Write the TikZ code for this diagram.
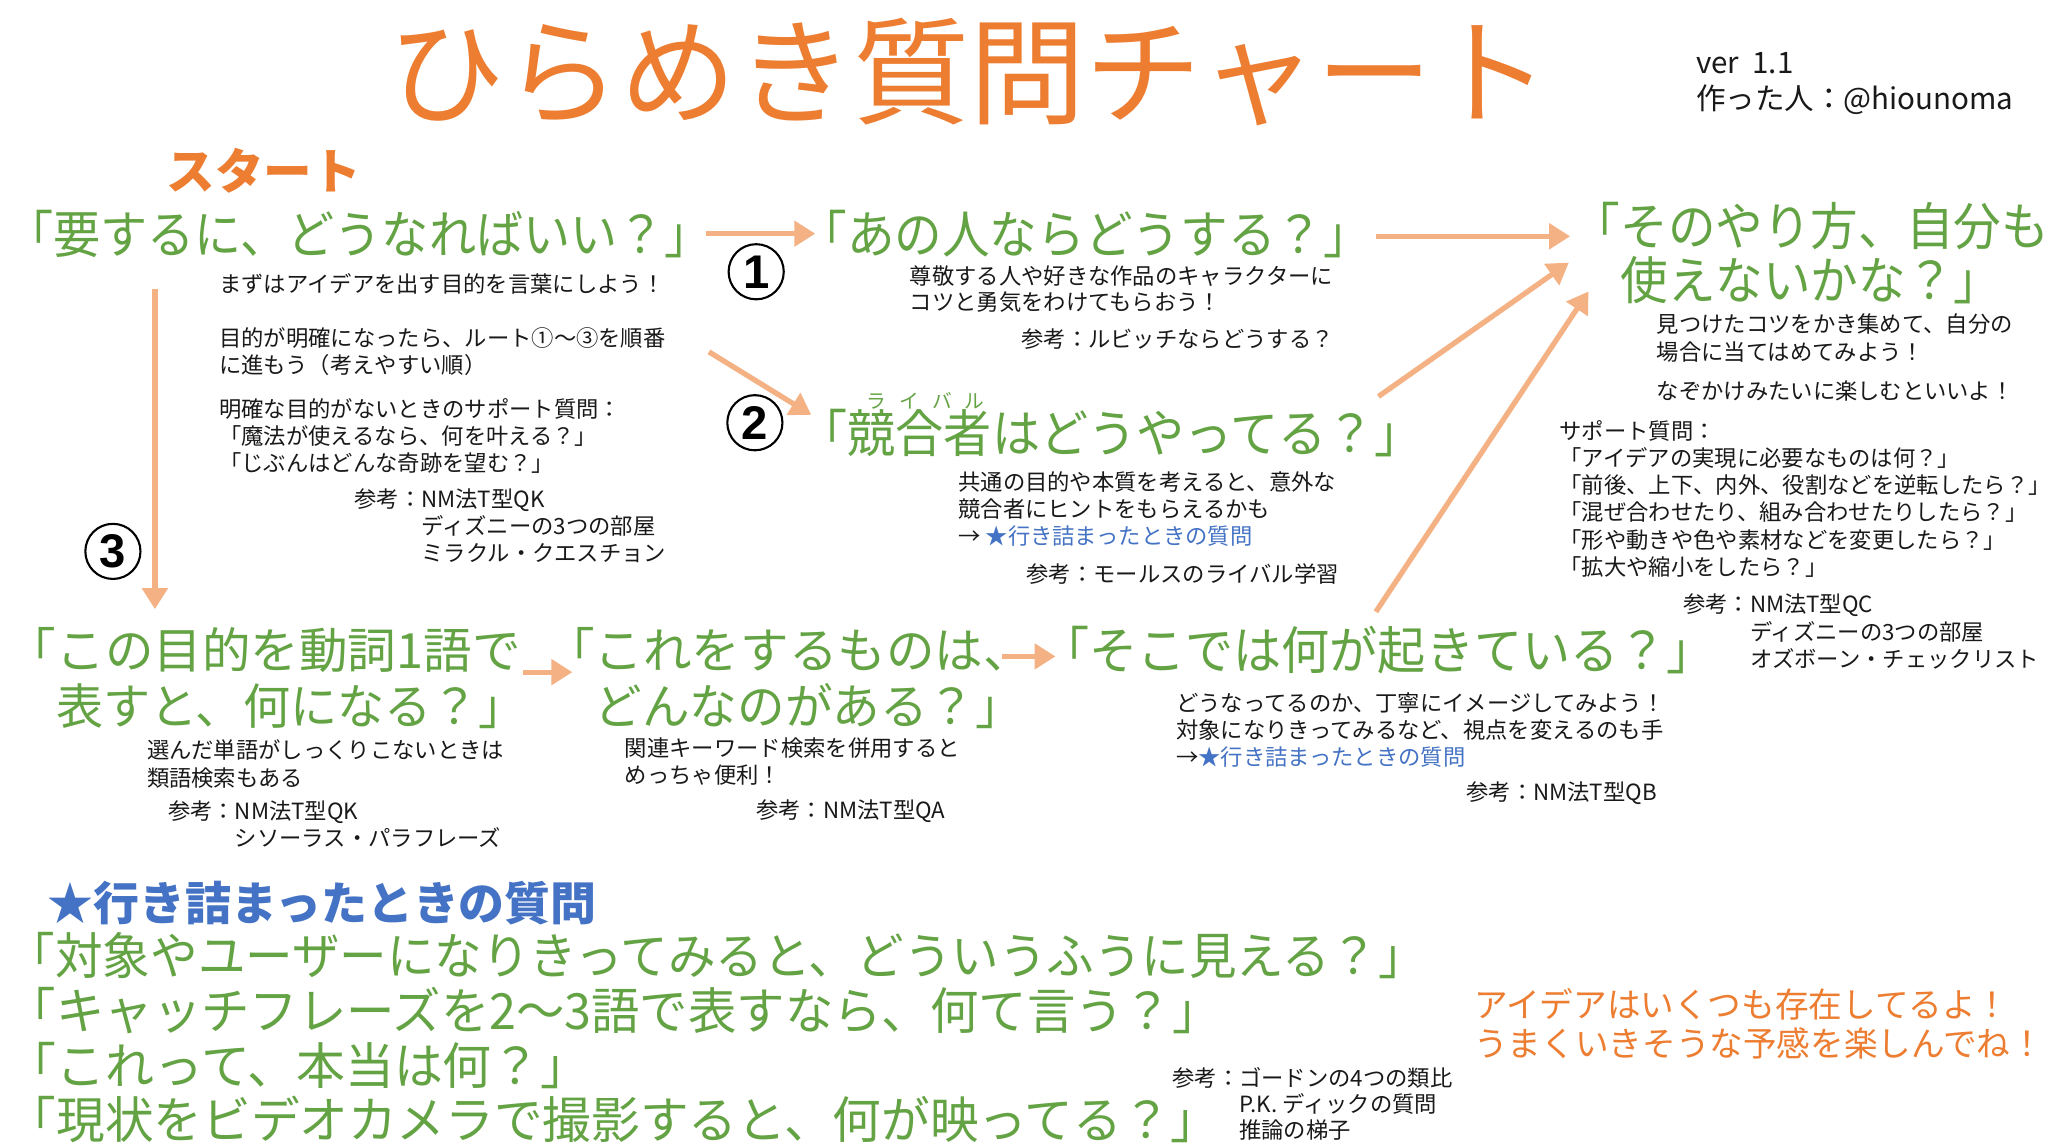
\documentclass[tikz,border=0pt]{standalone}
\usepackage{fontspec}
\setmainfont{Noto Sans CJK JP}
\newfontfamily\numfont{Liberation Sans}
\usepackage{graphicx}
\usetikzlibrary{arrows.meta}
\definecolor{ttl}{RGB}{237,125,49}
\definecolor{grn}{RGB}{100,163,68}
\definecolor{arc}{RGB}{244,177,131}
\definecolor{blu}{RGB}{68,114,196}
\definecolor{txt}{RGB}{25,25,25}
\newcommand{\sqz}[2]{\scalebox{#1}[1]{#2}}
\begin{document}
\begin{tikzpicture}[x=1pt,y=-1pt,
  every node/.style={inner sep=0pt, outer sep=0pt},
  q/.style={anchor=west, text=grn, align=left, font=\fontsize{39}{41}\selectfont},
  note/.style={anchor=west, align=left, text=txt, font=\fontsize{17}{20.7}\selectfont},
  circ/.style={circle, draw=black, line width=1.6pt, minimum size=42pt, font=\numfont\bfseries\fontsize{36}{36}\selectfont},
  arr/.style={draw=arc, line width=4pt, -{Triangle[length=16pt,width=19pt]}}]
\fill[white] (0,0) rectangle (1560,872.2);
\useasboundingbox (0,0) rectangle (1560,872.2);

% title and credits
\node[anchor=center, text=ttl, font=\fontsize{88.5}{88.5}\selectfont] (title) at (738,55) {ひらめき質問チャート};
\node[anchor=west, align=left, text=txt, font=\fontsize{22.5}{27}\selectfont] (ver) at (1292,63.5) {ver\ \ 1.1\\作った人：@hiounoma};
\node[anchor=center, text=ttl, font=\bfseries\fontsize{37}{37}\selectfont] (start) at (201,130) {スタート};

% main questions
\node[q] (n1) at (5,178) {\sqz{0.92}{「要するに、どうなればいい？」}};
\node[q] (n2) at (609,178) {\sqz{0.93}{「あの人ならどうする？」}};
\node[q] (n3) at (1198,192.5) {\sqz{0.93}{「そのやり方、自分も}\\\hspace*{0.93em}\sqz{0.93}{使えないかな？」}};
\node[anchor=west, text=grn, font=\fontsize{15}{15}\selectfont] (ruby) at (660,305) {ラ\hspace{10pt}イ\hspace{10pt}バ\hspace{10pt}ル};
\node[q] (nr) at (609,330) {\sqz{0.94}{「競合者はどうやってる？」}};
\node[q, font=\fontsize{37}{43}\selectfont] (n4) at (6,516.5) {「この目的を動詞1語で\\\hspace*{1em}\sqz{0.97}{表すと、何になる？」}};
\node[q, font=\fontsize{37}{43}\selectfont] (n5) at (416,516.5) {「これをするものは、\\\hspace*{1em}\sqz{0.98}{どんなのがある？」}};
\node[q] (n6) at (793,495) {\sqz{0.94}{「そこでは何が起きている？」}};

% circled route numbers
\node[circ] (c1) at (576,207) {1};
\node[circ] (c2) at (575,322) {2};
\node[circ] (c3) at (86,420) {3};

% notes: start
\node[note] (t1) at (167,216) {まずはアイデアを出す目的を言葉にしよう！};
\node[note] (t2) at (167,268) {目的が明確になったら、ルート①〜③を順番\\に進もう（考えやすい順）};
\node[note] (t3) at (167,332) {明確な目的がないときのサポート質問：\\「魔法が使えるなら、何を叶える？」\\「じぶんはどんな奇跡を望む？」};
\node[note] (t4) at (270,400.5) {参考：NM法T型QK\\\hspace*{3em}ディズニーの3つの部屋\\\hspace*{3em}ミラクル・クエスチョン};

% notes: route 1
\node[note, font=\fontsize{17}{20}\selectfont] (u1) at (693,220) {尊敬する人や好きな作品のキャラクターに\\コツと勇気をわけてもらおう！};
\node[note] (u2) at (778,258) {参考：ルビッチならどうする？};

% notes: route 2
\node[note] (r1) at (730,387.5) {共通の目的や本質を考えると、意外な\\競合者にヒントをもらえるかも\\→ \textcolor{blu}{★行き詰まったときの質問}};
\node[note] (r2) at (782,437) {参考：モールスのライバル学習};

% notes: goal
\node[note] (g1) at (1262,257.5) {見つけたコツをかき集めて、自分の\\場合に当てはめてみよう！};
\node[note] (g2) at (1262,298) {なぞかけみたいに楽しむといいよ！};
\node[note] (g3) at (1188,380) {サポート質問：\\「アイデアの実現に必要なものは何？」\\「前後、上下、内外、役割などを逆転したら？」\\「混ぜ合わせたり、組み合わせたりしたら？」\\「形や動きや色や素材などを変更したら？」\\「拡大や縮小をしたら？」};
\node[note] (g4) at (1282,481) {参考：NM法T型QC\\\hspace*{3em}ディズニーの3つの部屋\\\hspace*{3em}オズボーン・チェックリスト};

% notes: route 3
\node[note] (v1) at (112,582) {選んだ単語がしっくりこないときは\\類語検索もある};
\node[note] (v2) at (128,628) {参考：NM法T型QK\\\hspace*{3em}シソーラス・パラフレーズ};
\node[note] (w1) at (476,580) {関連キーワード検索を併用すると\\めっちゃ便利！};
\node[note] (w2) at (576,618) {参考：NM法T型QA};
\node[note] (x1) at (896,556) {どうなってるのか、丁寧にイメージしてみよう！\\対象になりきってみるなど、視点を変えるのも手\\→\textcolor{blu}{★行き詰まったときの質問}};
\node[note] (x2) at (1117,604) {参考：NM法T型QB};

% stuck questions
\node[anchor=west, text=blu, font=\bfseries\fontsize{35}{35}\selectfont] (stuck) at (36,688) {★行き詰まったときの質問};
\node[q, font=\fontsize{38}{38}\selectfont] (b1) at (6,728) {\sqz{0.953}{「対象やユーザーになりきってみると、どういうふうに見える？」}};
\node[q, font=\fontsize{38}{38}\selectfont] (b2) at (6,770) {\sqz{0.97}{「キャッチフレーズを2〜3語で表すなら、何て言う？」}};
\node[q, font=\fontsize{38}{38}\selectfont] (b3) at (6,812) {\sqz{0.98}{「これって、本当は何？」}};
\node[q, font=\fontsize{38}{38}\selectfont] (b4) at (6,853) {\sqz{0.975}{「現状をビデオカメラで撮影すると、何が映ってる？」}};
\node[note, font=\fontsize{17}{20}\selectfont] (b5) at (893,841) {参考：ゴードンの4つの類比\\\hspace*{3em}P.K. ディックの質問\\\hspace*{3em}推論の梯子};
\node[anchor=west, align=left, text=ttl, font=\fontsize{26}{30}\selectfont] (cheer) at (1123,780) {\sqz{0.985}{アイデアはいくつも存在してるよ！}\\\sqz{0.985}{うまくいきそうな予感を楽しんでね！}};

% connectors
\coordinate (a1s) at (538,178); \coordinate (a1e) at (621,178);
\coordinate (a2s) at (540,268); \coordinate (a2e) at (618,316);
\coordinate (a3s) at (118,220); \coordinate (a3e) at (118,464);
\coordinate (a4s) at (1048,180); \coordinate (a4e) at (1196,180);
\coordinate (a5s) at (1050,302); \coordinate (a5e) at (1195,200);
\coordinate (a6s) at (1048,466); \coordinate (a6e) at (1210,222);
\coordinate (a7s) at (398,512); \coordinate (a7e) at (436,512);
\coordinate (a8s) at (763,500); \coordinate (a8e) at (804,500);
\draw[arr] (a1s) -- (a1e);
\draw[arr] (a2s) -- (a2e);
\draw[arr] (a3s) -- (a3e);
\draw[arr] (a4s) -- (a4e);
\draw[arr] (a5s) -- (a5e);
\draw[arr] (a6s) -- (a6e);
\draw[arr] (a7s) -- (a7e);
\draw[arr] (a8s) -- (a8e);
\end{tikzpicture}
\end{document}
